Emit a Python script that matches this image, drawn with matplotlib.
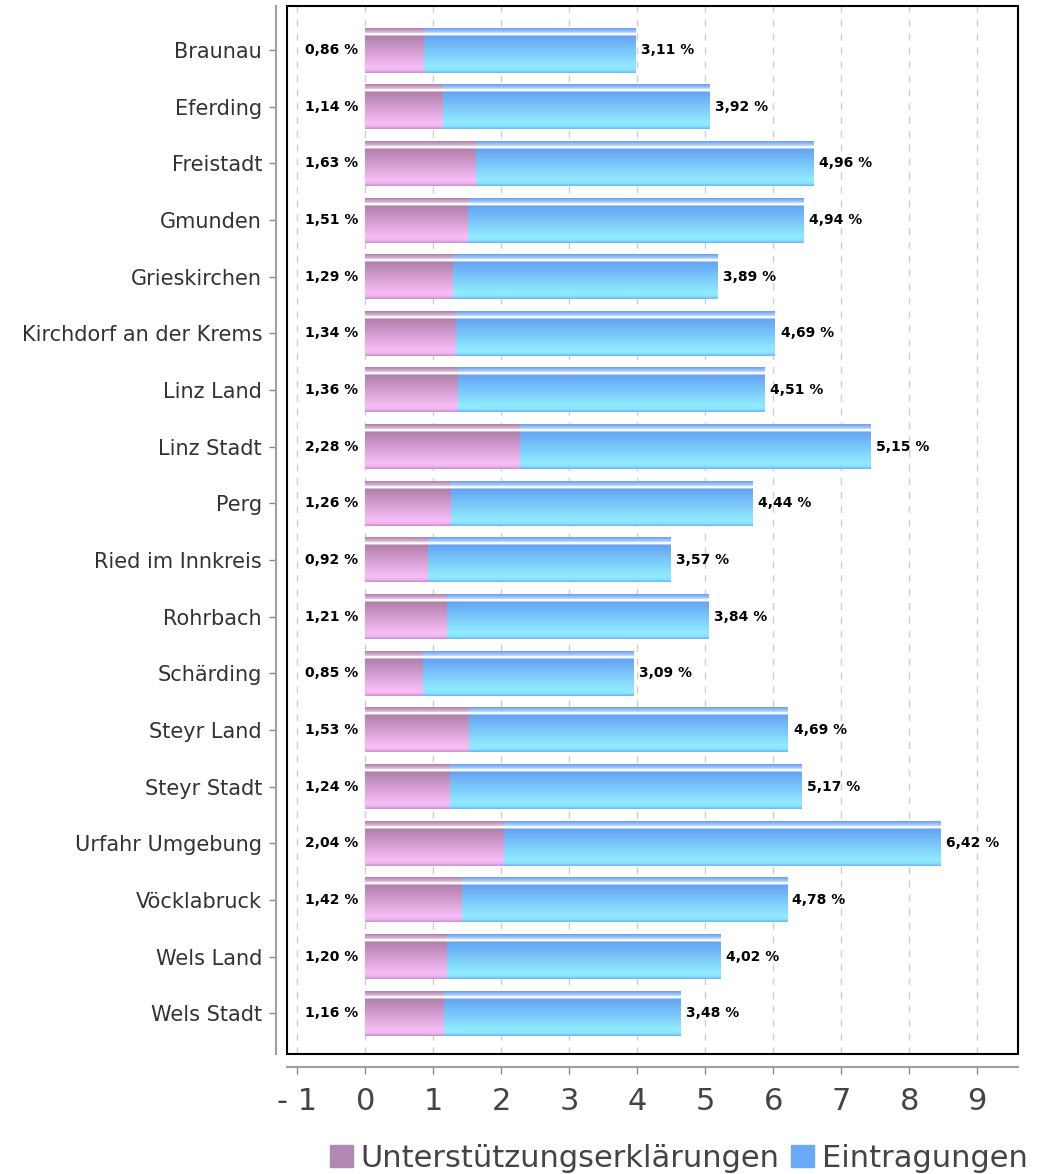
import numpy as np
import matplotlib
matplotlib.use("Agg")
import matplotlib.pyplot as plt
from matplotlib.patches import Rectangle, Patch

# ---------- Data ----------
districts = ["Braunau", "Eferding", "Freistadt", "Gmunden", "Grieskirchen",
             "Kirchdorf an der Krems", "Linz Land", "Linz Stadt", "Perg",
             "Ried im Innkreis", "Rohrbach", "Schärding", "Steyr Land",
             "Steyr Stadt", "Urfahr Umgebung", "Vöcklabruck", "Wels Land",
             "Wels Stadt"]
unterstuetzung = [0.86, 1.14, 1.63, 1.51, 1.29, 1.34, 1.36, 2.28, 1.26,
                  0.92, 1.21, 0.85, 1.53, 1.24, 2.04, 1.42, 1.20, 1.16]
eintragungen = [3.11, 3.92, 4.96, 4.94, 3.89, 4.69, 4.51, 5.15, 4.44,
                3.57, 3.84, 3.09, 4.69, 5.17, 6.42, 4.78, 4.02, 3.48]
xticks = [-1, 0, 1, 2, 3, 4, 5, 6, 7, 8, 9]
xticklabels = ["- 1", "0", "1", "2", "3", "4", "5", "6", "7", "8", "9"]

# ---------- Styling ----------
PURPLE = "#b088b0"
BLUE = "#6aa8f8"
BAR_H = 0.79


def hex2rgb(h):
    h = h.lstrip("#")
    return [int(h[i:i + 2], 16) / 255 for i in (0, 2, 4)]


def gradient(stops, n=120):
    pos = [p for p, _ in stops]
    cols = np.array([hex2rgb(c) for _, c in stops])
    t = np.linspace(0, 1, n)
    img = np.stack([np.interp(t, pos, cols[:, k]) for k in range(3)], axis=1)
    return img[:, None, :]


# top stripe, white highlight line, then body going lighter towards bottom
GRAD_PURPLE = gradient([(0.0, "#b080ac"), (0.10, "#dcc0dc"), (0.115, "#ffffff"),
                        (0.155, "#ffffff"), (0.17, "#b07faa"), (0.86, "#f7bdf7"),
                        (0.94, "#f2b6f2"), (1.0, "#c890c8")])
GRAD_BLUE = gradient([(0.0, "#66a0f2"), (0.10, "#b8d6fb"), (0.115, "#ffffff"),
                      (0.155, "#ffffff"), (0.17, "#66a3f4"), (0.86, "#90ebff"),
                      (0.94, "#8ce4fe"), (1.0, "#6cb2f6")])

fig = plt.figure(figsize=(10.44, 11.74), dpi=100)
ax = fig.add_axes([287 / 1044, 1 - 1054 / 1174, 731 / 1044, 1048 / 1174])

y = np.arange(len(districts))
b1 = ax.barh(y, unterstuetzung, height=BAR_H, color="none", zorder=2)
b2 = ax.barh(y, eintragungen, left=unterstuetzung, height=BAR_H, color="none", zorder=2)

for bars, grad in ((b1, GRAD_PURPLE), (b2, GRAD_BLUE)):
    for p in bars:
        x0, y0, w, h = p.get_x(), p.get_y(), p.get_width(), p.get_height()
        ax.imshow(grad, extent=(x0, x0 + w, y0 + h, y0), aspect="auto",
                  interpolation="bilinear", zorder=2)

# value labels
for i, (u, e) in enumerate(zip(unterstuetzung, eintragungen)):
    ax.annotate(f"{u:.2f} %".replace(".", ","), (0, i), xytext=(-5, 0),
                textcoords="offset points", ha="right", va="center",
                fontsize=10, fontweight="bold", color="black", zorder=4)
    ax.annotate(f"{e:.2f} %".replace(".", ","), (u + e, i), xytext=(4, 0),
                textcoords="offset points", ha="left", va="center",
                fontsize=10, fontweight="bold", color="black", zorder=4)

ax.set_xlim(-1.15, 9.6)
ax.set_ylim(len(districts) - 1 + 0.72, -0.78)
ax.set_yticks(y)
ax.set_yticklabels(districts)
ax.set_xticks(xticks)
ax.set_xticklabels(xticklabels)

ax.grid(axis="x", color="#cfcfcf", linestyle=(0, (5, 5)), linewidth=1)
ax.set_axisbelow(True)

for s in ("top", "right"):
    ax.spines[s].set_visible(False)
for s in ("left", "bottom"):
    ax.spines[s].set_color("#a0a0a0")
    ax.spines[s].set_linewidth(1.5)
ax.spines["left"].set_position(("outward", 8))
ax.spines["bottom"].set_position(("outward", 9))
ax.tick_params(axis="x", color="#888888", length=5, width=1, pad=10,
               labelcolor="#444444", labelsize=22)
ax.tick_params(axis="y", color="#888888", length=5, width=1, pad=5,
               labelcolor="#333333", labelsize=15)

ax.add_patch(Rectangle((0, 0), 1, 1, transform=ax.transAxes, fill=False,
                       edgecolor="black", linewidth=1.5, clip_on=False, zorder=5))

handles = [Patch(color=PURPLE, label="Unterstützungserklärungen"),
           Patch(color=BLUE, label="Eintragungen")]
fig.legend(handles=handles, loc="center right", bbox_to_anchor=(0.996, 0.0135),
           ncol=2, frameon=False, fontsize=22, labelcolor="#444444",
           handlelength=0.74, handleheight=0.74, handletextpad=0.25,
           columnspacing=0.4, borderaxespad=0)

fig.savefig("out.png", dpi=100)
